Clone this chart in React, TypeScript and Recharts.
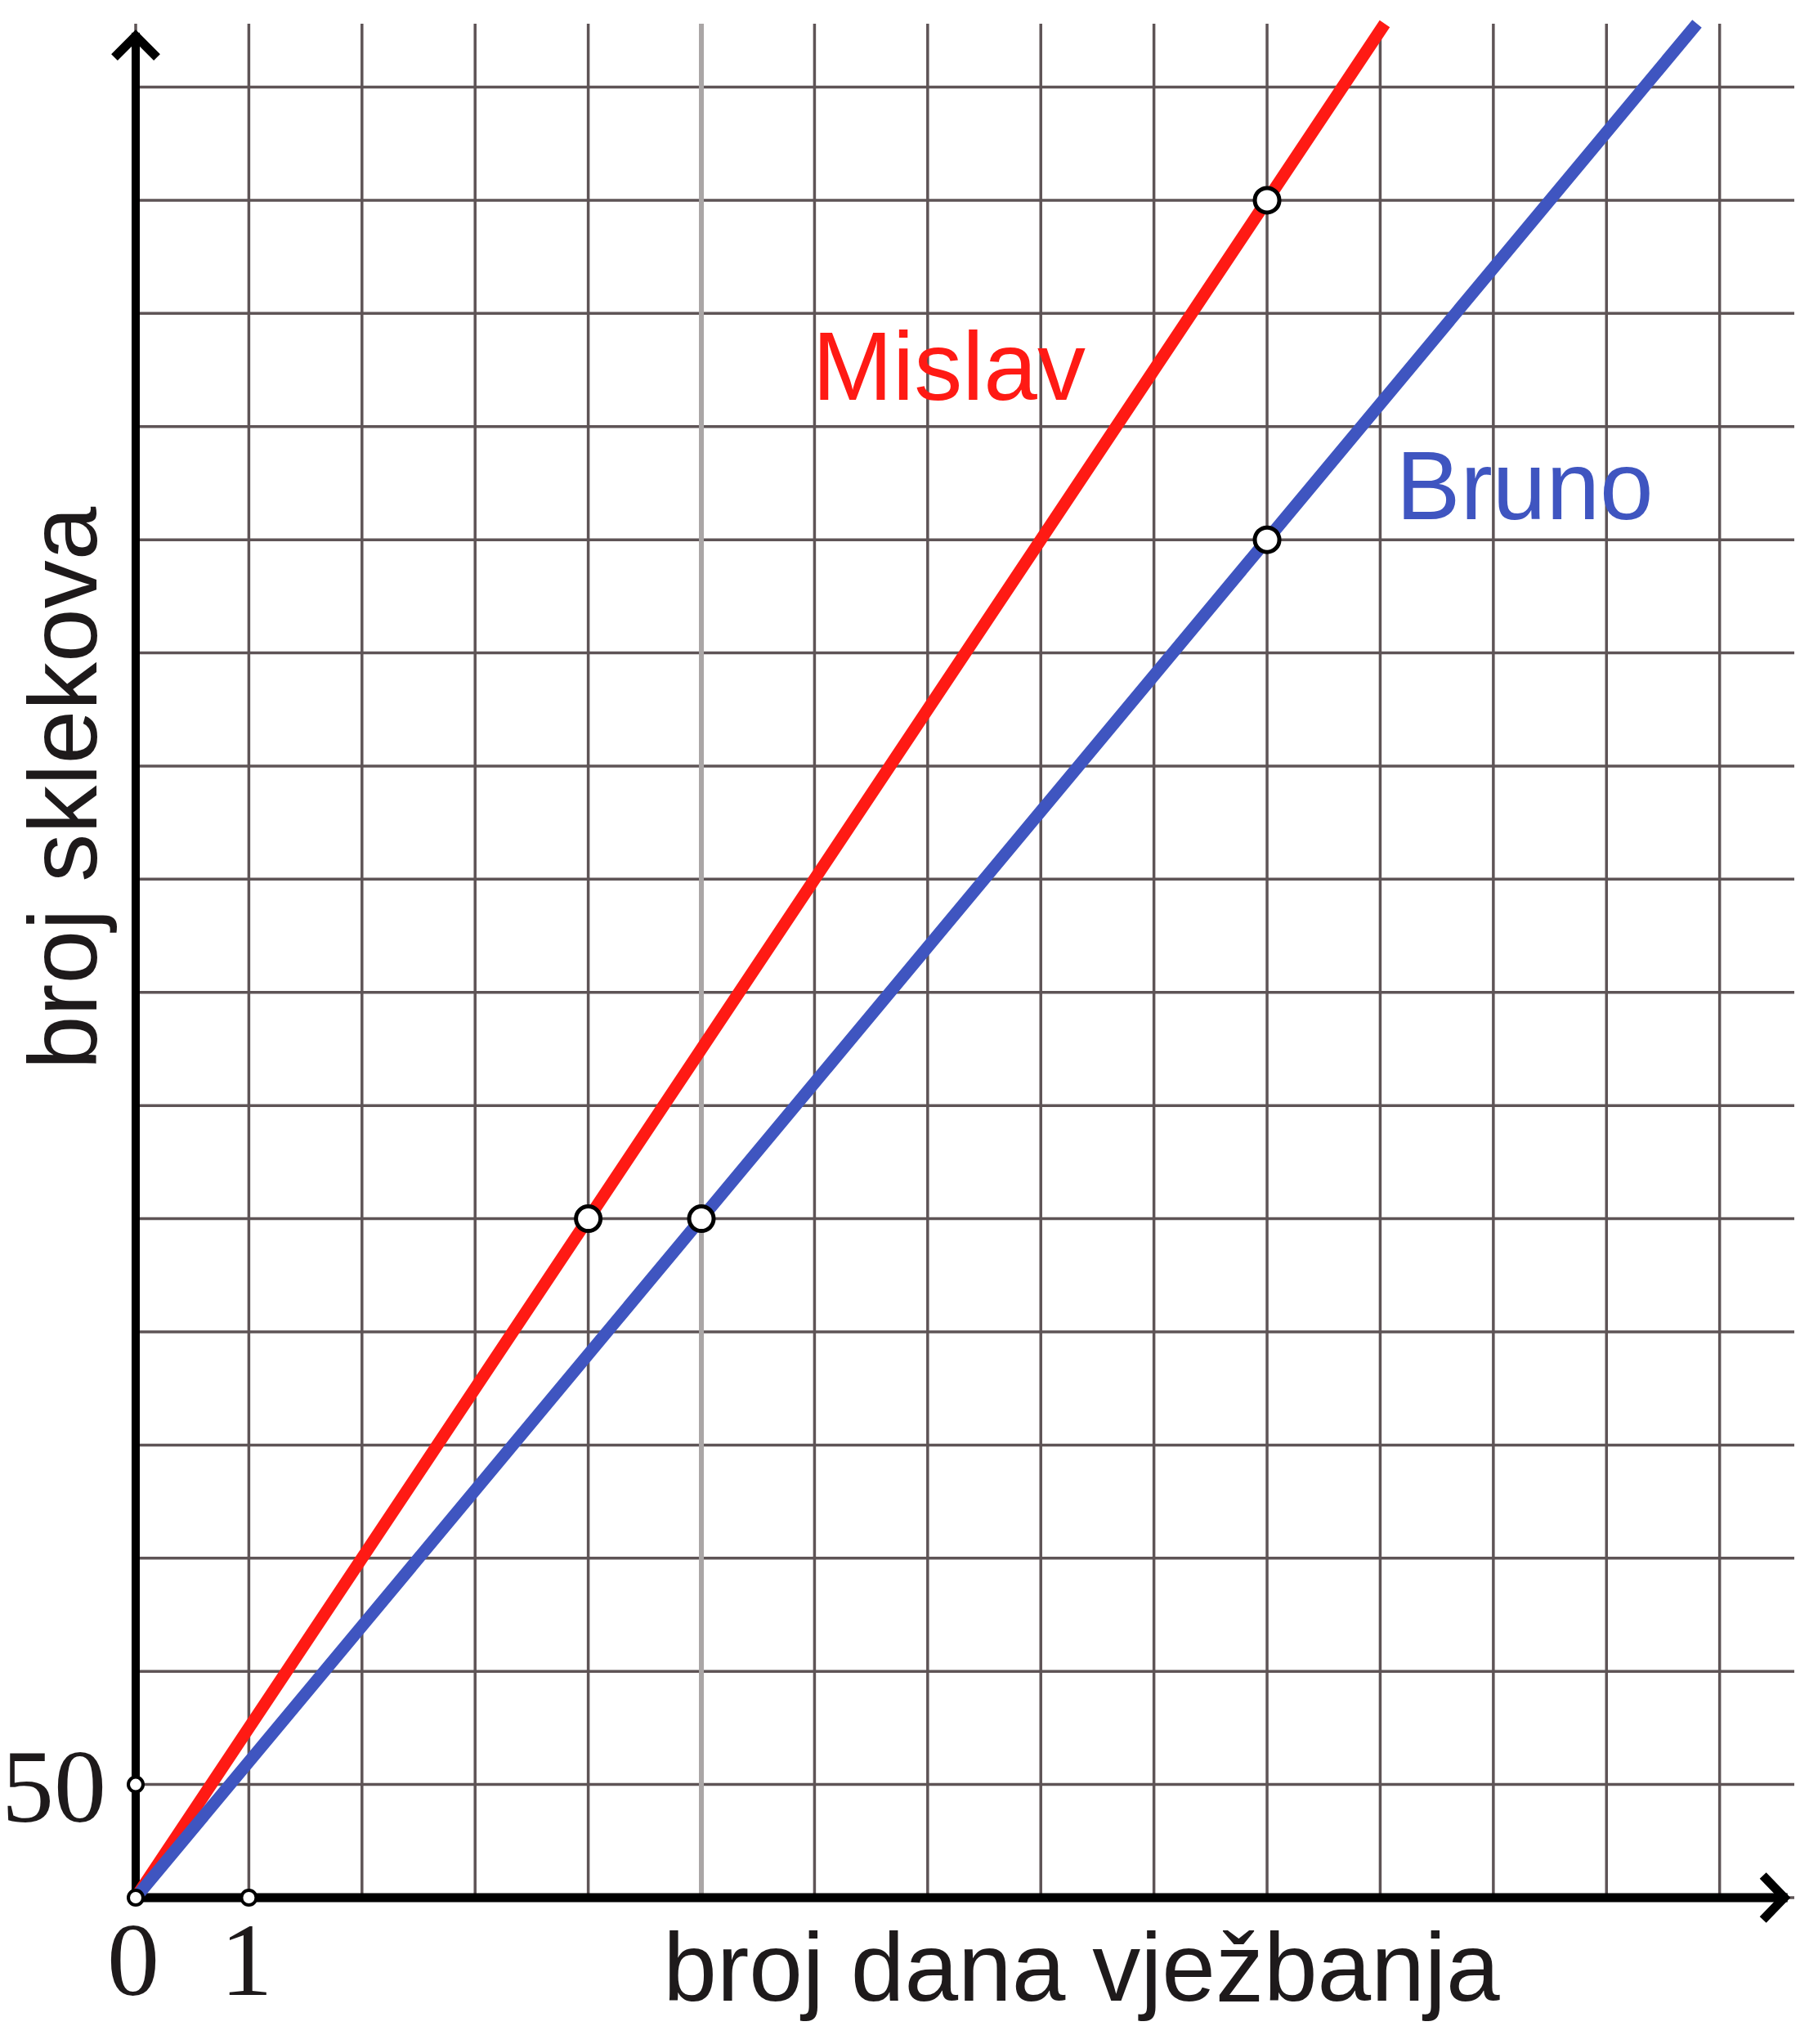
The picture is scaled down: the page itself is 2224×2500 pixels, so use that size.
import {
  ComposedChart,
  Line,
  Scatter,
  XAxis,
  YAxis,
  CartesianGrid,
  ReferenceLine,
  ReferenceDot,
} from "recharts";

// Mislav: red line, Bruno: blue line (days vs. push-ups)
const mislavDays = [0, 4, 10, 11.04];
const mislavCounts = [0, 300, 750, 828];
const brunoDays = [0, 5, 10, 13.8];
const brunoCounts = [0, 300, 600, 828];

// highlighted points on the lines
const mislavMarkDays = [4, 10];
const mislavMarkCounts = [300, 750];
const brunoMarkDays = [5, 10];
const brunoMarkCounts = [300, 600];

// unit marks on the axes
const unitMarkDays = [0, 1, 0];
const unitMarkCounts = [0, 0, 50];

const xTicks = [0, 1, 2, 3, 4, 5, 6, 7, 8, 9, 10, 11, 12, 13, 14];
const yTicks = [0, 50, 100, 150, 200, 250, 300, 350, 400, 450, 500, 550, 600, 650, 700, 750, 800];
const xTickLabels = [0, 1];
const yTickLabels = [50];

const X_MAX = 14.66;
const Y_MAX = 828;

const RED = "#ff1a14";
const BLUE = "#3f55c0";
const INK = "#1e1a1b";

const SANS = "'Liberation Sans', Arial, sans-serif";
const SERIF = "'Liberation Serif', 'Times New Roman', serif";

const zip = (xs: number[], ys: number[]) => xs.map((x, i) => ({ x, y: ys[i] }));

const mislavData = zip(mislavDays, mislavCounts);
const brunoData = zip(brunoDays, brunoCounts);
const mislavMarks = zip(mislavMarkDays, mislavMarkCounts);
const brunoMarks = zip(brunoMarkDays, brunoMarkCounts);
const unitMarks = zip(unitMarkDays, unitMarkCounts);

const ring = (r: number, sw: number) => (props: any) => (
  <circle cx={props.cx} cy={props.cy} r={r} fill="#fff" stroke="#000" strokeWidth={sw} />
);

const upArrow = (props: any) => (
  <path
    d={`M ${props.cx - 26} ${props.cy + 30} L ${props.cx} ${props.cy + 4} L ${props.cx + 26} ${props.cy + 30}`}
    stroke="#000"
    strokeWidth={11}
    fill="none"
  />
);

const rightArrow = (props: any) => (
  <path
    d={`M ${props.cx - 30} ${props.cy - 27} L ${props.cx - 4} ${props.cy} L ${props.cx - 30} ${props.cy + 27}`}
    stroke="#000"
    strokeWidth={11}
    fill="none"
  />
);

const nameLabel = (text: string, color: string) => (props: any) => (
  <text x={props.cx} y={props.cy} fontFamily={SANS} fontSize={118} fill={color}>
    {text}
  </text>
);

export default function App() {
  return (
    <div style={{ position: "absolute", left: 0, top: 0, width: 2224, height: 2500, background: "#fff" }}>
      <ComposedChart width={2224} height={2500} margin={{ top: 29, right: 29, bottom: 0, left: 0 }}>
        <CartesianGrid stroke="#5e5456" strokeWidth={3.5} syncWithTicks />
        <XAxis
          type="number"
          dataKey="x"
          domain={[0, X_MAX]}
          ticks={xTicks}
          interval={0}
          axisLine={false}
          tickLine={false}
          tickSize={0}
          tickMargin={28}
          height={179}
          dx={-3}
          tick={{ fontFamily: SERIF, fontSize: 128, fill: INK }}
          tickFormatter={(v: number) => (xTickLabels.includes(v) ? String(v) : "")}
        />
        <YAxis
          type="number"
          dataKey="y"
          domain={[0, Y_MAX]}
          ticks={yTicks}
          interval={0}
          axisLine={false}
          tickLine={false}
          tickSize={0}
          tickMargin={36}
          width={166}
          tick={{ fontFamily: SERIF, fontSize: 128, fill: INK }}
          tickFormatter={(v: number) => (yTickLabels.includes(v) ? String(v) : "")}
        />
        <ReferenceLine x={5} stroke="#aaa6a6" strokeWidth={6} />
        <ReferenceLine segment={[{ x: 0, y: 0 }, { x: 0, y: 824 }]} stroke="#000" strokeWidth={10} ifOverflow="visible" />
        <ReferenceLine segment={[{ x: 0, y: 0 }, { x: 14.6, y: 0 }]} stroke="#000" strokeWidth={11} ifOverflow="visible" />
        <ReferenceDot x={0} y={824} r={0} shape={upArrow} ifOverflow="visible" />
        <ReferenceDot x={14.6} y={0} r={0} shape={rightArrow} ifOverflow="visible" />
        <Line data={mislavData} dataKey="y" type="linear" stroke={RED} strokeWidth={15} dot={false} activeDot={false} isAnimationActive={false} />
        <Line data={brunoData} dataKey="y" type="linear" stroke={BLUE} strokeWidth={15} dot={false} activeDot={false} isAnimationActive={false} />
        <Scatter data={mislavMarks} dataKey="y" shape={ring(15, 5)} isAnimationActive={false} />
        <Scatter data={brunoMarks} dataKey="y" shape={ring(15, 5)} isAnimationActive={false} />
        <Scatter data={unitMarks} dataKey="y" shape={ring(9, 4)} isAnimationActive={false} />
        <ReferenceDot x={5.98} y={662} r={0} shape={nameLabel("Mislav", RED)} ifOverflow="visible" />
        <ReferenceDot x={11.14} y={609} r={0} shape={nameLabel("Bruno", BLUE)} ifOverflow="visible" />
      </ComposedChart>
      <svg width={2224} height={2500} style={{ position: "absolute", left: 0, top: 0, pointerEvents: "none" }}>
        <text x={1323} y={2447} textAnchor="middle" fontFamily={SANS} fontSize={118} fill={INK}>
          broj dana vježbanja
        </text>
        <text
          x={118}
          y={964}
          transform="rotate(-90 118 964)"
          textAnchor="middle"
          fontFamily={SANS}
          fontSize={118}
          fill={INK}
        >
          broj sklekova
        </text>
      </svg>
    </div>
  );
}
